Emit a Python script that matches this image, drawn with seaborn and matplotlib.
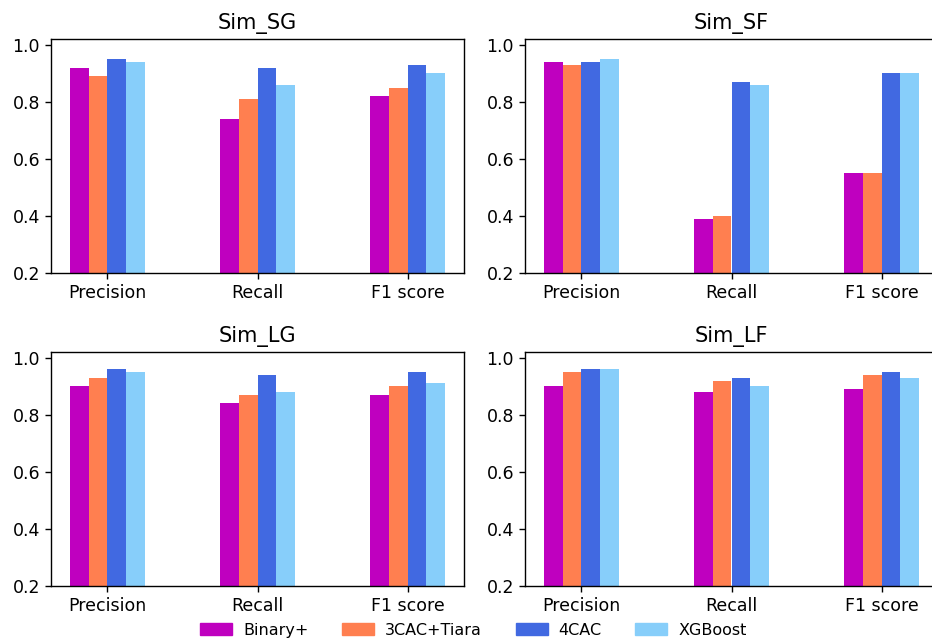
import numpy as np
import pandas as pd
import seaborn as sns
import matplotlib.pyplot as plt

# === data ===
metrics = ['Precision', 'Recall', 'F1 score']
methods = ['Binary+', '3CAC+Tiara', '4CAC', 'XGBoost']
colors = ['#BF00BF', '#FF7F50', '#4169E1', '#87CEFA']

sim_sg = {'Binary+': [0.92, 0.74, 0.82],
          '3CAC+Tiara': [0.89, 0.81, 0.85],
          '4CAC': [0.95, 0.92, 0.93],
          'XGBoost': [0.94, 0.86, 0.90]}
sim_sf = {'Binary+': [0.94, 0.39, 0.55],
          '3CAC+Tiara': [0.93, 0.40, 0.55],
          '4CAC': [0.94, 0.87, 0.90],
          'XGBoost': [0.95, 0.86, 0.90]}
sim_lg = {'Binary+': [0.90, 0.84, 0.87],
          '3CAC+Tiara': [0.93, 0.87, 0.90],
          '4CAC': [0.96, 0.94, 0.95],
          'XGBoost': [0.95, 0.88, 0.91]}
sim_lf = {'Binary+': [0.90, 0.88, 0.89],
          '3CAC+Tiara': [0.95, 0.92, 0.94],
          '4CAC': [0.96, 0.93, 0.95],
          'XGBoost': [0.96, 0.90, 0.93]}

datasets = [('Sim_SG', sim_sg), ('Sim_SF', sim_sf),
            ('Sim_LG', sim_lg), ('Sim_LF', sim_lf)]

# plain matplotlib look, just seaborn for the bars
plt.rcParams['font.family'] = ['DejaVu Sans']

fig = plt.figure(figsize=(9.32, 6.38), dpi=100)

# axes rectangles in pixels -> figure fraction; right column runs off the edge like the original crop
W, H = 932, 638
def rect(left, top, width, height):
    return [left / W, 1 - (top + height) / H, width / W, height / H]

positions = [rect(51, 39, 413, 234), rect(525, 39, 413, 234),
             rect(51, 352, 413, 234), rect(525, 352, 413, 234)]

for (title, vals), pos in zip(datasets, positions):
    ax = fig.add_axes(pos)
    rows = []
    for m in methods:
        for met, v in zip(metrics, vals[m]):
            rows.append({'metric': met, 'method': m, 'score': v})
    df = pd.DataFrame(rows)
    sns.barplot(data=df, x='metric', y='score', hue='method',
                hue_order=methods, order=metrics, palette=colors,
                width=0.5, gap=0, saturation=1, linewidth=0,
                legend=False, ax=ax)
    ax.set_xlim(-0.375, 2.375)
    ax.set_ylim(0.2, 1.02)
    ax.set_yticks([0.2, 0.4, 0.6, 0.8, 1.0])
    ax.set_xlabel('')
    ax.set_ylabel('')
    ax.set_title(title, fontsize=15, pad=7)
    ax.tick_params(axis='both', labelsize=12.5, length=4.4, width=1)
    for s in ax.spines.values():
        s.set_linewidth(1)

handles = [plt.Rectangle((0, 0), 1, 1, color=c) for c in colors]
fig.legend(handles, methods, loc='lower center', ncol=4, frameon=False,
           fontsize=11.5, bbox_to_anchor=(0.508, -0.022), columnspacing=2.1,
           handlelength=2.0, handletextpad=0.7)

plt.savefig('out.png', dpi=100)
